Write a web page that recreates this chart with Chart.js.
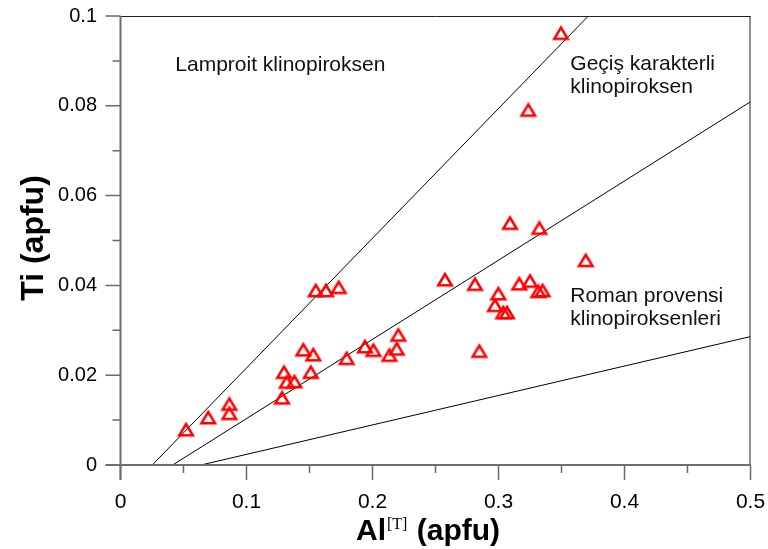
<!DOCTYPE html>
<html>
<head>
<meta charset="utf-8">
<script src="https://cdn.jsdelivr.net/npm/chart.js@4/dist/chart.umd.min.js"></script>
<style>
html,body{margin:0;padding:0;background:#fff;}
#wrap{width:768px;height:549px;position:relative;}
</style>
</head>
<body>
<div id="wrap"><canvas id="c" width="768" height="549"></canvas></div>
<script>
// ---- data ----
const alT = [0.052, 0.0696, 0.0864, 0.0864, 0.1282, 0.1298, 0.1319, 0.138, 0.1451, 0.151, 0.153, 0.155, 0.163, 0.1732, 0.1795, 0.194, 0.2007, 0.2134, 0.2192, 0.2205, 0.2575, 0.2813, 0.2848, 0.2972, 0.2999, 0.3038, 0.3067, 0.3091, 0.3165, 0.3237, 0.325, 0.3316, 0.3324, 0.335, 0.3496, 0.3692];
const ti  = [0.0080, 0.0107, 0.0137, 0.01165, 0.0151, 0.0208, 0.0186, 0.0187, 0.0258, 0.0208, 0.0247, 0.0390, 0.0390, 0.0397, 0.0239, 0.0265, 0.0257, 0.0246, 0.0260, 0.0291, 0.0414, 0.0404, 0.0255, 0.0357, 0.0383, 0.0341, 0.0341, 0.0540, 0.0405, 0.0792, 0.0411, 0.0388, 0.0529, 0.0390, 0.0963, 0.0457];

const lineLamproitX = [0.0252, 0.3713];
const lineLamproitY = [0, 0.1];
const lineGecisX = [0.0414, 0.5];
const lineGecisY = [0, 0.0809];
const lineRomanX = [0.0639, 0.5];
const lineRomanY = [0, 0.0286];

const xTickLabels = ['0', '0.1', '0.2', '0.3', '0.4', '0.5'];
const yTickLabels = ['0', '0.02', '0.04', '0.06', '0.08', '0.1'];

const xTitleMain = 'Al';
const xTitleSup = '[T]';
const xTitleTail = ' (apfu)';
const yTitle = 'Ti (apfu)';
const fieldLabels = [
  {lines: ['Lamproit klinopiroksen'], x: 0.0435, y: 0.0878},
  {lines: ['Geçiş karakterli', 'klinopiroksen'], x: 0.357, y: 0.0880},
  {lines: ['Roman provensi', 'klinopiroksenleri'], x: 0.357, y: 0.0362}
];

// ---- helpers ----
const toPts = (xs, ys) => xs.map((x, i) => ({x: x, y: ys[i]}));
const FONT = 'Arial, "Liberation Sans", sans-serif';

function makeTriangle() {
  const c = document.createElement('canvas');
  c.width = 20; c.height = 20;
  const g = c.getContext('2d');
  g.strokeStyle = '#ff0000';
  g.lineWidth = 2.5;
  g.lineJoin = 'miter';
  g.beginPath();
  g.moveTo(10, 5);
  g.lineTo(16.8, 16.3);
  g.lineTo(3.2, 16.3);
  g.closePath();
  g.stroke();
  return c;
}
const tri = makeTriangle();

const frame = {
  id: 'frame',
  afterDraw(chart) {
    const ctx = chart.ctx;
    const xs = chart.scales.x, ys = chart.scales.y;
    const a = chart.chartArea;
    ctx.save();
    // top and right borders
    ctx.strokeStyle = '#222';
    ctx.lineWidth = 1;
    ctx.beginPath();
    ctx.moveTo(a.left, a.top + 0.5); ctx.lineTo(a.right, a.top + 0.5);
    ctx.moveTo(a.right - 0.5, a.top); ctx.lineTo(a.right - 0.5, a.bottom);
    ctx.stroke();
    // ticks
    ctx.strokeStyle = '#6a6a6a';
    ctx.lineWidth = 1.5;
    ctx.beginPath();
    xs.ticks.forEach(t => {
      const px = xs.getPixelForValue(t.value);
      const major = Math.round(t.value * 100) % 10 === 0;
      ctx.moveTo(px, a.bottom); ctx.lineTo(px, a.bottom + (major ? 15 : 8));
    });
    ys.ticks.forEach(t => {
      const py = ys.getPixelForValue(t.value);
      const major = Math.round(t.value * 100) % 2 === 0;
      ctx.moveTo(a.left, py); ctx.lineTo(a.left - (major ? 15 : 8), py);
    });
    ctx.stroke();
    // axis lines
    ctx.strokeStyle = '#6e6e6e';
    ctx.lineWidth = 2;
    ctx.beginPath();
    ctx.moveTo(a.left - 15, a.bottom); ctx.lineTo(a.right, a.bottom);
    ctx.moveTo(a.left, a.top); ctx.lineTo(a.left, a.bottom + 15);
    ctx.stroke();

    // field labels
    ctx.fillStyle = '#111';
    ctx.font = '21px ' + FONT;
    ctx.textAlign = 'left';
    ctx.textBaseline = 'alphabetic';
    fieldLabels.forEach(f => {
      const px = xs.getPixelForValue(f.x), py = ys.getPixelForValue(f.y);
      f.lines.forEach((l, i) => ctx.fillText(l, px, py + i * 23));
    });

    // y title
    ctx.fillStyle = '#000';
    ctx.font = 'bold 32px ' + FONT;
    ctx.save();
    ctx.translate(34, 238);
    ctx.rotate(-Math.PI / 2);
    ctx.textAlign = 'center';
    ctx.textBaseline = 'middle';
    ctx.fillText(yTitle, 0, 0);
    ctx.restore();

    // x title
    const fMain = 'bold 30px ' + FONT;
    const fSup = '16px "Liberation Serif", "Times New Roman", serif';
    ctx.font = fMain; const w1 = ctx.measureText(xTitleMain).width;
    ctx.font = fSup; const w2 = ctx.measureText(xTitleSup).width + 2;
    const x0 = 356;
    const base = 540;
    ctx.textAlign = 'left';
    ctx.textBaseline = 'alphabetic';
    ctx.font = fMain; ctx.fillText(xTitleMain, x0, base);
    ctx.font = fSup; ctx.fillText(xTitleSup, x0 + w1 + 1, base - 11);
    ctx.font = fMain; ctx.fillText(xTitleTail, x0 + w1 + w2, base);
    ctx.restore();
  }
};

new Chart(document.getElementById('c'), {
  type: 'scatter',
  data: {
    datasets: [
      {
        label: 'samples',
        data: toPts(alT, ti),
        pointStyle: tri,
        pointRadius: 7,
        pointHoverRadius: 7,
        showLine: false
      },
      {label: 'Lamproit', type: 'line', data: toPts(lineLamproitX, lineLamproitY), borderColor: '#000', borderWidth: 1, pointRadius: 0, fill: false},
      {label: 'Gecis', type: 'line', data: toPts(lineGecisX, lineGecisY), borderColor: '#000', borderWidth: 1, pointRadius: 0, fill: false},
      {label: 'Roman', type: 'line', data: toPts(lineRomanX, lineRomanY), borderColor: '#000', borderWidth: 1, pointRadius: 0, fill: false}
    ]
  },
  options: {
    responsive: false,
    animation: false,
    events: [],
    layout: {padding: {left: 0, top: 16, right: 17.5, bottom: 0}},
    plugins: {legend: {display: false}, tooltip: {enabled: false}, title: {display: false}},
    scales: {
      x: {
        type: 'linear', min: 0, max: 0.5,
        grid: {display: false, drawTicks: false},
        border: {display: false},
        ticks: {
          stepSize: 0.05, autoSkip: false, maxRotation: 0, padding: 25,
          color: '#000', font: {family: FONT, size: 21},
          callback: (v) => { const k = Math.round(v * 100); return k % 10 === 0 ? xTickLabels[k / 10] : ''; }
        },
        afterFit: (s) => { s.height = 84; s.paddingLeft = 0; s.paddingRight = 0; }
      },
      y: {
        type: 'linear', min: 0, max: 0.1,
        grid: {display: false, drawTicks: false},
        border: {display: false},
        ticks: {
          stepSize: 0.01, autoSkip: false, padding: 23.5,
          color: '#000', font: {family: FONT, size: 20},
          callback: (v) => { const k = Math.round(v * 100); return k % 2 === 0 ? yTickLabels[k / 2] : ''; }
        },
        afterFit: (s) => { s.width = 120.5; s.paddingTop = 0; s.paddingBottom = 0; }
      }
    }
  },
  plugins: [frame]
});
</script>
</body>
</html>
